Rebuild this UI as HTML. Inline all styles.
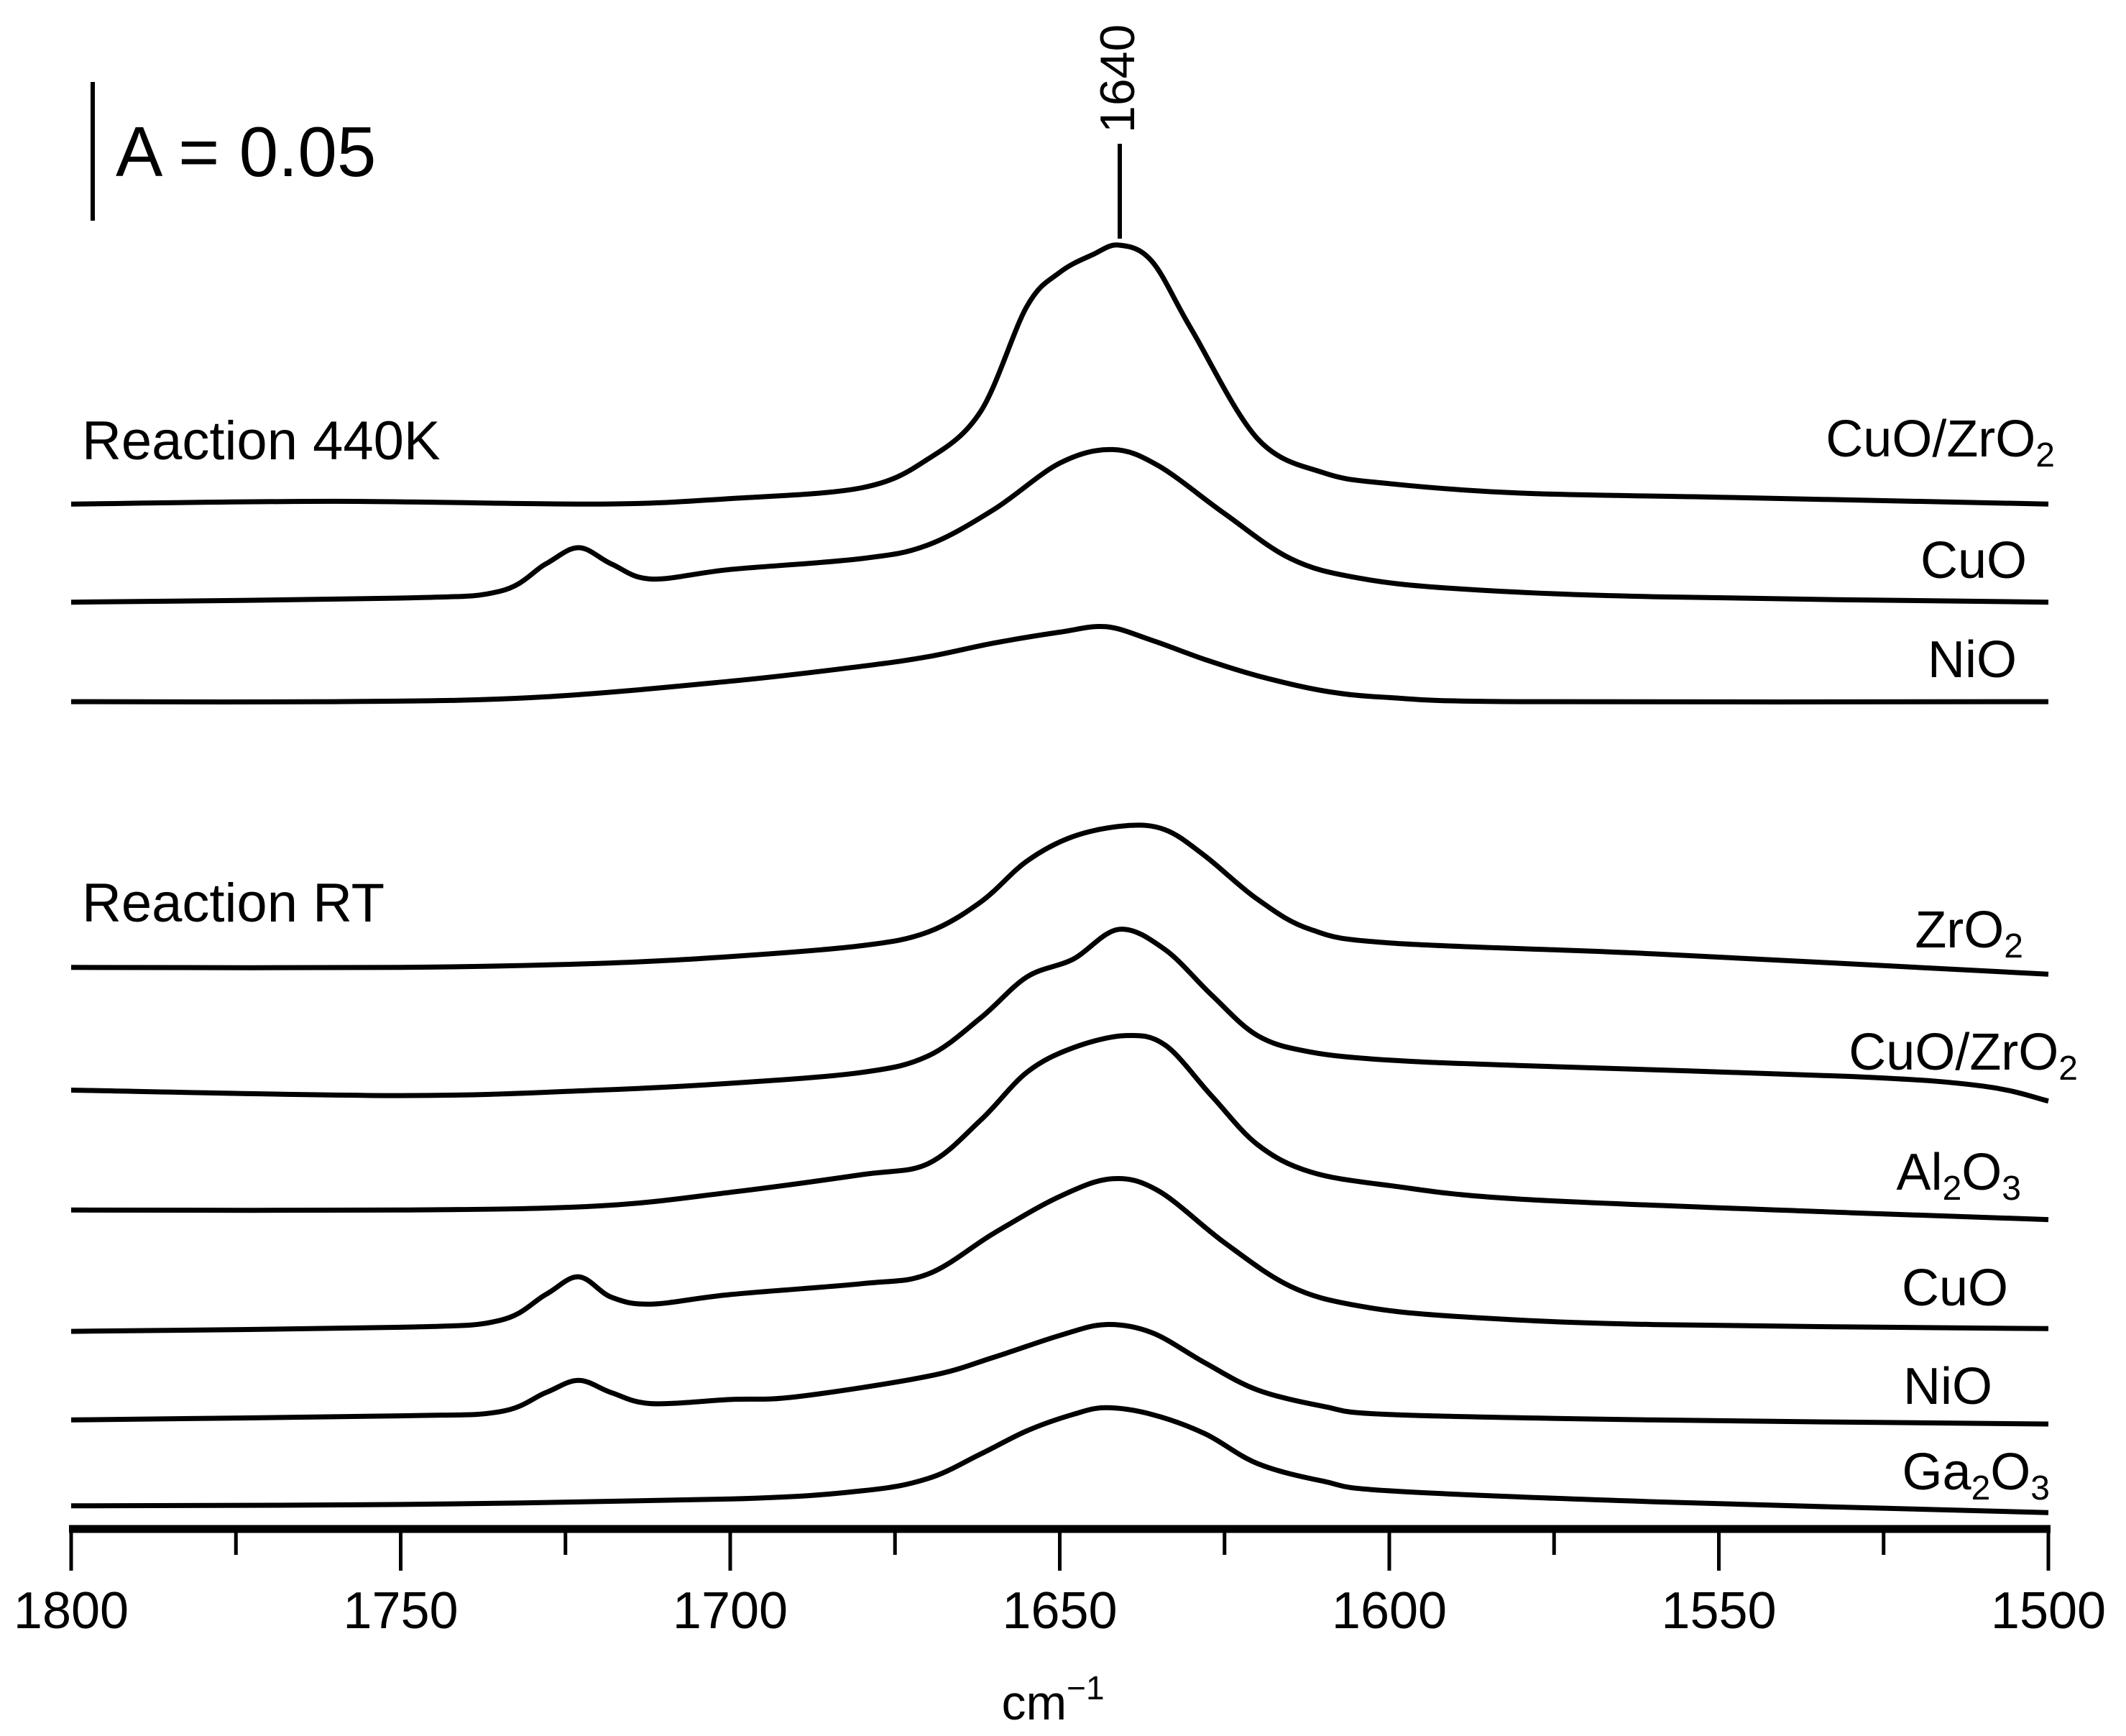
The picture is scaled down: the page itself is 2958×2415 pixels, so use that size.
<!DOCTYPE html>
<html><head><meta charset="utf-8"><style>
body{margin:0;background:#fff}
svg{display:block;font-family:"Liberation Sans",sans-serif}
</style></head><body>
<svg id="chart" width="2958" height="2415" viewBox="0 0 2958 2415">
<g id="curves"></g>
<g id="xaxis"></g>
<line x1="129" y1="114" x2="129" y2="307" stroke="#000" stroke-width="6"/>
<text x="161" y="245" font-size="98">A = 0.05</text>
<text transform="translate(1578,185) rotate(-90)" font-size="68">1640</text>
<line x1="1558" y1="200" x2="1558" y2="332" stroke="#000" stroke-width="6"/>
<text x="114" y="639" font-size="76">Reaction 440K</text>
<text x="114" y="1282" font-size="76">Reaction RT</text>
<g font-size="72" text-anchor="end">
<text x="2859" y="635">CuO/ZrO<tspan font-size="48" dy="14">2</tspan></text>
<text x="2820" y="804">CuO</text>
<text x="2806" y="942">NiO</text>
<text x="2815" y="1318">ZrO<tspan font-size="48" dy="14">2</tspan></text>
<text x="2891" y="1488">CuO/ZrO<tspan font-size="48" dy="14">2</tspan></text>
<text x="2812" y="1655">Al<tspan font-size="48" dy="14">2</tspan><tspan dy="-14">O</tspan><tspan font-size="48" dy="14">3</tspan></text>
<text x="2794" y="1816">CuO</text>
<text x="2772" y="1953">NiO</text>
<text x="2852" y="2072">Ga<tspan font-size="48" dy="14">2</tspan><tspan dy="-14">O</tspan><tspan font-size="48" dy="14">3</tspan></text>
</g>
<text x="1465" y="2392" font-size="68" text-anchor="middle">cm<tspan font-size="46" dy="-28">−1</tspan></text>
</svg>
<script>
const xTicks=[1800,1750,1700,1650,1600,1550,1500];
const minorTicks=[1775,1725,1675,1625,1575,1525];
const wn1=[1800,1760,1720,1700,1680,1670,1662,1655,1650,1645,1641,1636,1630,1620,1610,1600,1580,1550,1500];
const v1=[752,754,752,756,764,785,820,897,922,935,942,930,880,800,775,767,760,757,752];
const wn2=[1800,1750,1735,1728,1723,1718,1712,1700,1680,1670,1660,1650,1642,1635,1625,1615,1605,1590,1560,1500];
const v2=[680,683,688,708,720,708,697,704,712,722,748,782,792,780,745,712,698,690,684,680];
const wn3=[1800,1760,1730,1700,1680,1670,1660,1650,1643,1636,1628,1620,1610,1600,1580,1500];
const v3=[607,607,610,622,633,640,650,658,662,652,638,626,615,610,607,607];
const wn4=[1800,1750,1720,1700,1680,1670,1662,1655,1648,1640,1634,1628,1620,1612,1600,1560,1500];
const v4=[412,412,415,420,428,438,460,490,508,516,513,494,462,440,430,422,407];
const wn5=[1800,1750,1720,1700,1680,1670,1662,1655,1648,1641,1634,1627,1620,1612,1600,1580,1530,1510,1500];
const v5=[322,318,322,327,335,347,375,405,418,440,425,392,362,350,344,340,332,325,314];
const wn6=[1800,1750,1720,1700,1680,1670,1662,1655,1648,1640,1634,1627,1620,1612,1600,1580,1530,1500];
const v6=[234,234,237,247,260,268,300,335,353,362,355,318,282,262,252,242,232,227];
const wn7=[1800,1750,1735,1728,1723,1718,1712,1700,1680,1670,1660,1650,1642,1635,1625,1615,1605,1590,1560,1500];
const v7=[145,148,153,172,185,170,165,172,180,187,217,244,257,248,210,178,164,156,150,147];
const wn8=[1800,1750,1735,1728,1723,1718,1712,1700,1690,1670,1660,1650,1643,1636,1628,1620,1610,1600,1560,1500];
const v8=[80,83,86,100,109,100,92,95,97,112,126,142,150,144,122,102,90,84,80,77];
const wn9=[1800,1750,1700,1680,1670,1662,1655,1648,1643,1636,1628,1620,1610,1600,1560,1500];
const v9=[17,18,22,28,37,55,72,84,89,84,70,48,35,28,20,12];
const series=[[wn1,v1],[wn2,v2],[wn3,v3],[wn4,v4],[wn5,v5],[wn6,v6],[wn7,v7],[wn8,v8],[wn9,v9]];
const names=['cuo-zro2-440k','cuo-440k','nio-440k','zro2-rt','cuo-zro2-rt','al2o3-rt','cuo-rt','nio-rt','ga2o3-rt'];
const X0=99,X1=2850,AY=2127;
function xs(w){return X0+(1800-w)/300*(X1-X0);}
function ys(v){return AY-v*1.896;}
const NS='http://www.w3.org/2000/svg';
function pathFor(wn,v){
  const p=wn.map((w,i)=>[xs(w),ys(v[i])]);
  let d='M'+p[0][0].toFixed(1)+','+p[0][1].toFixed(1);
  for(let i=0;i<p.length-1;i++){
    const a=p[Math.max(0,i-1)],b=p[i],c=p[i+1],e=p[Math.min(p.length-1,i+2)];
    const c1=[b[0]+(c[0]-a[0])/6,b[1]+(c[1]-a[1])/6],c2=[c[0]-(e[0]-b[0])/6,c[1]-(e[1]-b[1])/6];
    d+='C'+c1.map(n=>n.toFixed(1))+' '+c2.map(n=>n.toFixed(1))+' '+c[0].toFixed(1)+','+c[1].toFixed(1);
  }
  return d;
}
const g=document.getElementById('curves');
series.forEach((s,i)=>{
  const el=document.createElementNS(NS,'path');
  el.setAttribute('d',pathFor(s[0],s[1]));
  el.setAttribute('fill','none');el.setAttribute('stroke','#000');el.setAttribute('stroke-width','7');
  el.setAttribute('stroke-linejoin','round');
  
  
  g.appendChild(el);
});
const ax=document.getElementById('xaxis');
function add(tag,attrs,txt){const e=document.createElementNS(NS,tag);for(const k in attrs)e.setAttribute(k,attrs[k]);if(txt)e.textContent=txt;ax.appendChild(e);return e;}
const al=add('line',{x1:X0-3,y1:AY,x2:X1+3,y2:AY,stroke:'#000','stroke-width':11});


xTicks.forEach(t=>{
  const l=add('line',{x1:xs(t),y1:AY,x2:xs(t),y2:AY+58,stroke:'#000','stroke-width':5});
  
  
  const tx=add('text',{x:xs(t),y:AY+138,'font-size':72,'text-anchor':'middle'},String(t));
  
  
});
minorTicks.forEach(t=>{
  const l=add('line',{x1:xs(t),y1:AY,x2:xs(t),y2:AY+36,stroke:'#000','stroke-width':5});
  
  
});
</script>
</body></html>
